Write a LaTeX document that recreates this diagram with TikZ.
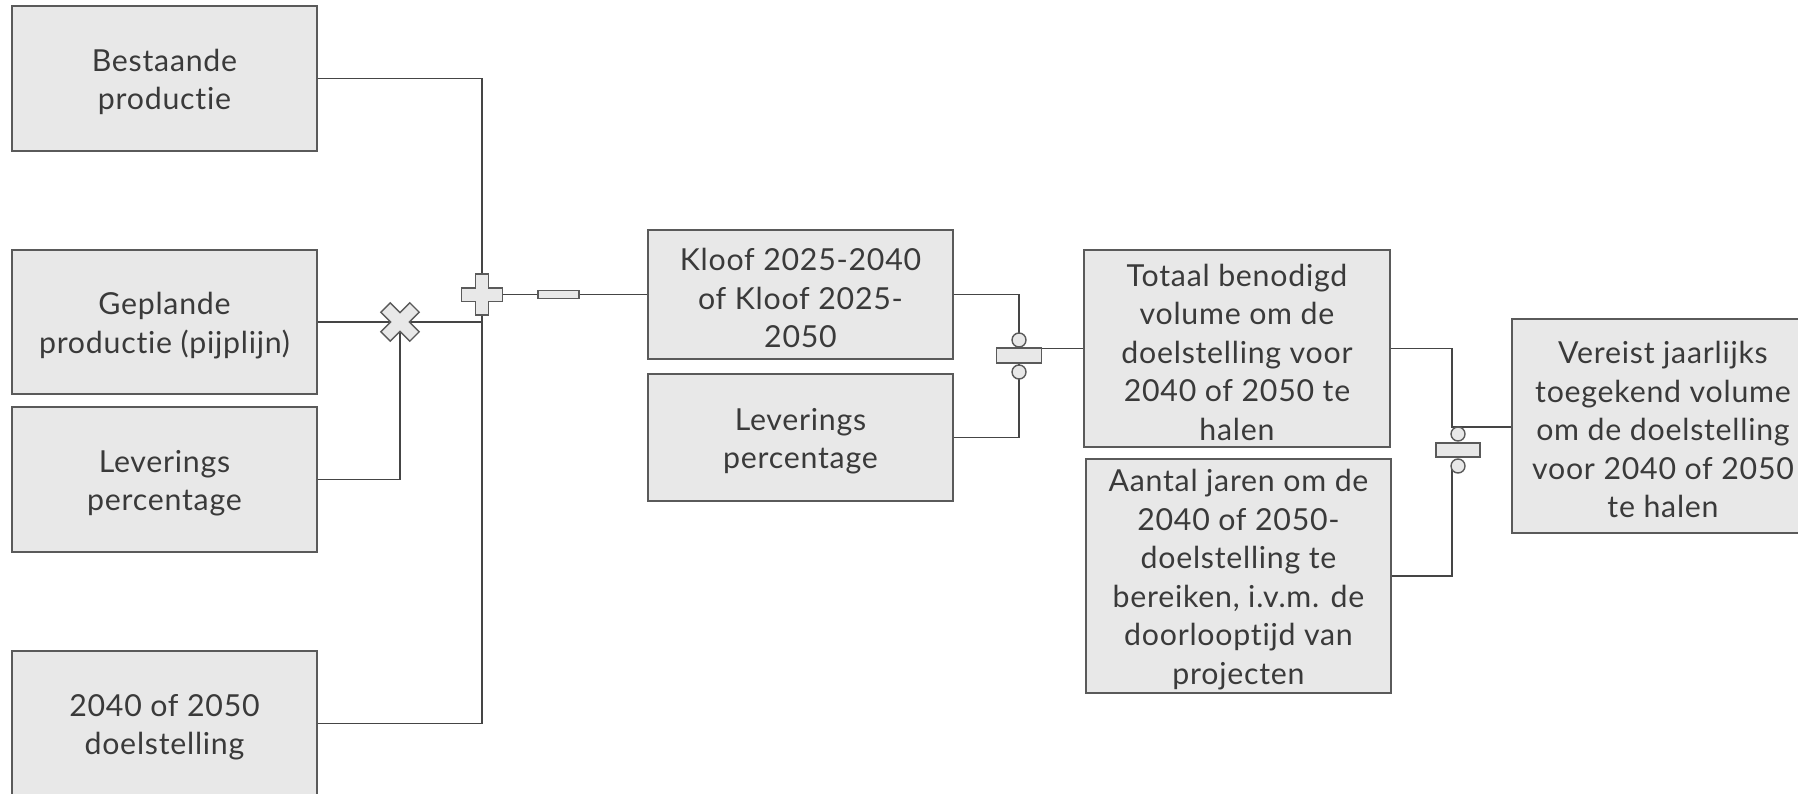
\documentclass[tikz,border=0pt]{standalone}
\usepackage{fontspec}
\setmainfont{Lato}[Ligatures=NoCommon, LetterSpace=2.5]
\usetikzlibrary{calc}
\definecolor{boxfill}{HTML}{E8E8E8}
\definecolor{boxline}{HTML}{5A5A5A}
\definecolor{linecol}{HTML}{454545}
\definecolor{txt}{HTML}{3A3A3A}
\tikzset{
  box/.style={draw=boxline, fill=boxfill, line width=1.4pt, inner sep=0pt, minimum width=305pt},
  boxtext/.style={align=center, text=txt, font=\fontsize{30.3pt}{38.5pt}\selectfont, inner sep=0pt, yshift=-3.5pt},
  conn/.style={draw=linecol, line width=1.4pt},
  op/.style={draw=boxline, fill=boxfill, line width=1.4pt},
}
\begin{document}
\begin{tikzpicture}[x=1pt,y=-1pt]
\useasboundingbox (0,0) rectangle (1798,794);
\clip (0,0) rectangle (1798,794);
% boxes
\node[box, minimum height=145pt] (bp) at (164.5,78.5) {};
\node[box, minimum height=144pt] (gp) at (164.5,322) {};
\node[box, minimum height=145pt] (lp) at (164.5,479.5) {};
\node[box, minimum height=145pt] (ds) at (164.5,723.5) {};
\node[box, minimum height=129pt] (kl) at (800.5,294.5) {};
\node[box, minimum height=127pt] (lp2) at (800.5,437.5) {};
\node[box, minimum width=306pt, minimum height=197pt] (tb) at (1237,348.5) {};
\node[box, minimum height=234pt] (aj) at (1238.5,576) {};
\node[box, minimum width=302pt, minimum height=214pt] (vj) at (1663,426) {};
% box texts
\node[boxtext] (bpt) at (bp.center) {Bestaande\\productie};
\node[boxtext] (gpt) at (gp.center) {Geplande\\productie (pijplijn)};
\node[boxtext] (lpt) at (lp.center) {Leverings\\percentage};
\node[boxtext] (dst) at (ds.center) {2040 of 2050\\doelstelling};
\node[boxtext] (klt) at (kl.center) {Kloof 2025-2040\\of Kloof 2025-\\2050};
\node[boxtext] (lp2t) at (lp2.center) {Leverings\\percentage};
\node[boxtext] (tbt) at (tb.center) {Totaal benodigd\\volume om de\\doelstelling voor\\2040 of 2050 te\\halen};
\node[boxtext] (ajt) at (aj.center) {Aantal jaren om de\\2040 of 2050-\\doelstelling te\\bereiken, i.v.m. de\\doorlooptijd van\\projecten};
\node[boxtext] (vjt) at (vj.center) {Vereist jaarlijks\\toegekend volume\\om de doelstelling\\voor 2040 of 2050\\te halen};
% operator positions
\coordinate (plus) at (482,294.5);
\coordinate (cross) at (400,322);
\coordinate (minus) at (558.5,294.5);
\coordinate (div1) at (1019,355.5);
\coordinate (div2) at (1458,450);
\coordinate (j2) at (1452,427);
% connectors
\draw[conn] (bp.east) -| (plus);
\draw[conn] (ds.east) -| (plus);
\draw[conn] (gp.east) -- (cross) -- (cross -| plus);
\draw[conn] (lp.east) -| (cross);
\draw[conn] (plus) -- (minus) -- (kl.west);
\draw[conn] (kl.east) -| (div1);
\draw[conn] (lp2.east) -| (div1);
\draw[conn] (div1 |- tb.west) -- (tb.west);
\draw[conn] (tb.east) -| (j2) -- (j2 -| vj.west);
\draw[conn] (aj.east) -| ($(j2)+(0,39)$);
% operator shapes
\def\opa{6.7}\def\opL{20.5}
\draw[op, shift={(plus)}] (-\opa,-\opL) -- (\opa,-\opL) -- (\opa,-\opa) -- (\opL,-\opa) -- (\opL,\opa) -- (\opa,\opa) -- (\opa,\opL) -- (-\opa,\opL) -- (-\opa,\opa) -- (-\opL,\opa) -- (-\opL,-\opa) -- (-\opa,-\opa) -- cycle;
\draw[op, shift={(cross)}, rotate=45] (-\opa,-\opL) -- (\opa,-\opL) -- (\opa,-\opa) -- (\opL,-\opa) -- (\opL,\opa) -- (\opa,\opa) -- (\opa,\opL) -- (-\opa,\opL) -- (-\opa,\opa) -- (-\opL,\opa) -- (-\opL,-\opa) -- (-\opa,-\opa) -- cycle;
\draw[op, shift={(minus)}] (-20.5,-4) rectangle (20.5,4);
\draw[op, shift={(div1)}] (-22.5,-7.5) rectangle (22.5,7.5);
\draw[op, shift={(div1)}] (0,-15.5) circle (7);
\draw[op, shift={(div1)}] (0,16.5) circle (7);
\draw[op, shift={(div2)}] (-22,-7) rectangle (22,7);
\draw[op, shift={(div2)}] (0,-16) circle (7);
\draw[op, shift={(div2)}] (0,16) circle (7);
\end{tikzpicture}
\end{document}
